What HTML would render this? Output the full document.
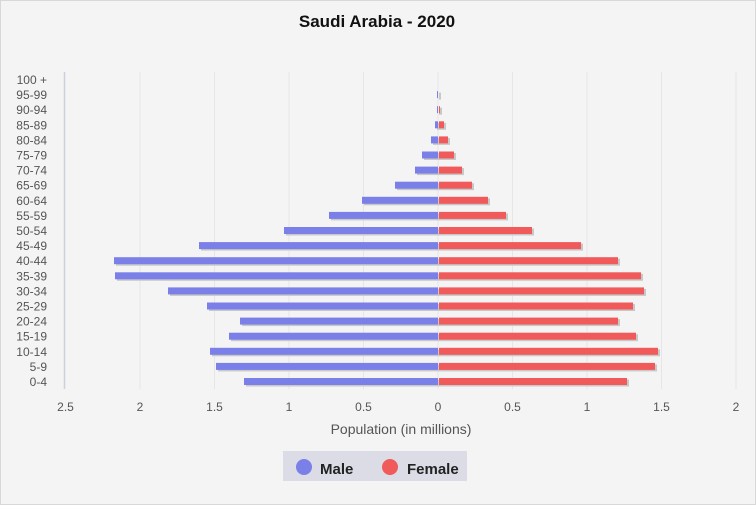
<!DOCTYPE html>
<html><head><meta charset="utf-8"><style>
html,body{margin:0;padding:0;background:#f4f4f4;}
svg{display:block;font-family:"Liberation Sans",sans-serif;}
</style></head><body>
<svg id="c" width="756" height="505" xmlns="http://www.w3.org/2000/svg">
<rect x="0.5" y="0.5" width="755" height="504" fill="#f4f4f4" stroke="#d8d8d8"/>
<text x="377" y="27" text-anchor="middle" font-size="17" font-weight="bold" fill="#111">Saudi Arabia - 2020</text>
<g id="grid"></g>
<line x1="64.5" y1="72" x2="64.5" y2="389" stroke="#ccd0dd" stroke-width="1.5"/>
<g id="bars"></g>
<g id="lab" font-size="12" fill="#555"></g>
<text x="401" y="434" text-anchor="middle" font-size="14" fill="#555">Population (in millions)</text>
<rect x="283" y="451" width="184" height="30" fill="#dcdce6"/>
<circle cx="304" cy="467" r="8" fill="#7b7fe8"/>
<text x="320" y="474" font-size="15" font-weight="bold" fill="#222">Male</text>
<circle cx="390" cy="467" r="8" fill="#f05a5a"/>
<text x="407" y="474" font-size="15" font-weight="bold" fill="#222">Female</text>
</svg>
<script>
var ns="http://www.w3.org/2000/svg";
function el(p,t,a,txt){var e=document.createElementNS(ns,t);for(var k in a)e.setAttribute(k,a[k]);if(txt!=null)e.textContent=txt;document.getElementById(p).appendChild(e);}
var ages=["100 +","95-99","90-94","85-89","80-84","75-79","70-74","65-69","60-64","55-59","50-54","45-49","40-44","35-39","30-34","25-29","20-24","15-19","10-14","5-9","0-4"];
var ml=[438,437,437,435,431,422,415,395,362,329,284,199,114,115,168,207,240,229,210,216,244];
var fr=[438,439,440,444,448,454,462,472,488,506,532,581,618,641,644,633,618,636,658,655,627];
var z=438,u=149;
var ticks=[[-2.5,"2.5"],[-2,"2"],[-1.5,"1.5"],[-1,"1"],[-0.5,"0.5"],[0,"0"],[0.5,"0.5"],[1,"1"],[1.5,"1.5"],[2,"2"]];
ticks.forEach(function(t){var x=z+t[0]*u;
 if(t[0]!==-2.5)el("grid","line",{x1:x,y1:72,x2:x,y2:389,stroke:"#e6e6e6","stroke-width":1});
 el("lab","text",{x:x,y:411,"text-anchor":"middle"},t[1]);});
for(var i=0;i<21;i++){var y=80+i*15.1;
 el("lab","text",{x:47,y:y+4,"text-anchor":"end"},ages[i]);
 if(ml[i]<z){el("bars","rect",{x:ml[i]+2,y:y-2.5,width:z-ml[i],height:7,fill:"#c8c8c8"});
  el("bars","rect",{x:ml[i],y:y-4,width:z-ml[i],height:7,fill:"#7b7fe8"});}
 if(fr[i]>z){el("bars","rect",{x:z+2,y:y-2.5,width:fr[i]-z,height:7,fill:"#c8c8c8"});
  el("bars","rect",{x:z+1,y:y-4,width:fr[i]-z-1,height:7,fill:"#f05a5a"});}
}
</script>
</body></html>
